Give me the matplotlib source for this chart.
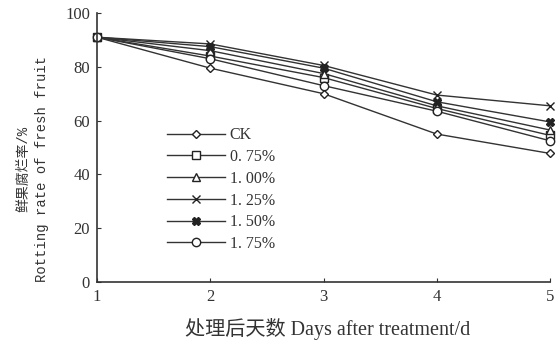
import matplotlib
matplotlib.use("Agg")
import matplotlib.pyplot as plt

plt.rcParams['font.family'] = ['Liberation Serif', 'Noto Sans CJK SC']

days = [1, 2, 3, 4, 5]
series_names = ["CK", "0. 75%", "1. 00%", "1. 25%", "1. 50%", "1. 75%"]
ck = [91, 79.5, 70, 55, 47.8]
c075 = [91, 84, 76, 64.5, 54.5]
c100 = [91, 86, 77.5, 65.5, 56.5]
c125 = [91, 88.5, 80.5, 69.5, 65.5]
c150 = [91, 87.5, 79.5, 67, 59.5]
c175 = [91, 83, 73, 63.5, 52.5]
yticks = [0, 20, 40, 60, 80, 100]
xticks = [1, 2, 3, 4, 5]

all_series = [ck, c075, c100, c125, c150, c175]
markers = ["D", "s", "^", "x", "X", "o"]
msizes = [4, 6, 6, 6, 6, 6]
fills = ["white", "white", "white", "none", "#222222", "white"]

fig = plt.figure(figsize=(5.59, 3.57), dpi=100)
ax = fig.add_axes([0.1735, 0.21, 0.8105, 0.7536])

col = "#333333"
for vals, name, m, ms, fc in zip(all_series, series_names, markers, msizes, fills):
    ax.plot(days, vals, color=col, lw=1.0, marker=m, markersize=ms,
            markerfacecolor=fc, markeredgecolor="#222222", markeredgewidth=1.0,
            label=name, clip_on=False)

ax.set_xlim(1, 5)
ax.set_ylim(0, 100)
ax.set_xticks(xticks)
ax.set_yticks(yticks)
ax.spines['top'].set_visible(False)
ax.spines['right'].set_visible(False)
for s in ['left', 'bottom']:
    ax.spines[s].set_color("#333333")
    ax.spines[s].set_linewidth(1.2)
ax.tick_params(direction='in', length=3, color="#333333", labelsize=12,
               labelcolor="#333333", pad=5)

ax.set_ylabel("鲜果腐烂率/%\nRotting rate of fresh fruit", fontsize=10,
              color="#333333", linespacing=1.5,
              family=['Liberation Mono', 'Noto Sans CJK SC'])
ax.yaxis.set_label_coords(-0.105, 0.42)
ax.set_xlabel("处理后天数 Days after treatment/d", fontsize=14.5,
              color="#333333")
ax.xaxis.set_label_coords(0.51, -0.135)

leg = ax.legend(loc='upper left', bbox_to_anchor=(0.155, 0.575), frameon=False,
                handlelength=3.6, handletextpad=0.3, labelspacing=0.36,
                fontsize=11.5, borderaxespad=0, borderpad=0)
for t in leg.get_texts():
    t.set_color("#333333")

fig.savefig("out.png", dpi=100, facecolor="white")
